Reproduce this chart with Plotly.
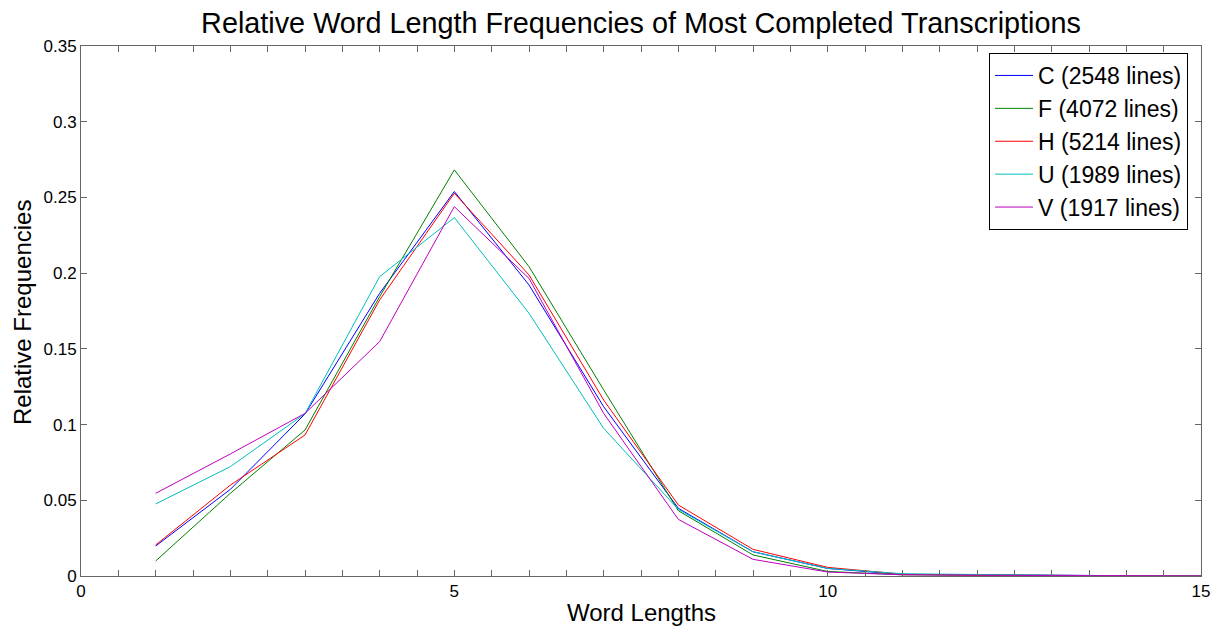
import plotly.graph_objects as go

word_lengths = [1, 2, 3, 4, 5, 6, 7, 8, 9, 10, 11, 12, 13, 14, 15]

series_names = ["C (2548 lines)", "F (4072 lines)", "H (5214 lines)", "U (1989 lines)", "V (1917 lines)"]
series_colors = ["#0000ff", "#008000", "#ff0000", "#00bfbf", "#bf00bf"]

freq_C = [0.0198, 0.0572, 0.1070, 0.1867, 0.2539, 0.1922, 0.1118, 0.0447, 0.0160, 0.0050, 0.0010, 0.0008, 0.0007, 0.0001, 0.0]
freq_F = [0.0099, 0.0546, 0.0964, 0.1845, 0.2682, 0.2043, 0.1229, 0.0431, 0.0139, 0.0030, 0.0008, 0.0005, 0.0002, 0.0, 0.0]
freq_H = [0.0205, 0.0600, 0.0931, 0.1823, 0.2528, 0.1988, 0.1162, 0.0469, 0.0176, 0.0057, 0.0012, 0.0005, 0.0004, 0.0002, 0.0001]
freq_U = [0.0476, 0.0722, 0.1072, 0.1977, 0.2367, 0.1735, 0.0975, 0.0440, 0.0160, 0.0050, 0.0015, 0.0010, 0.0003, 0.0, 0.0]
freq_V = [0.0546, 0.0806, 0.1074, 0.1548, 0.2439, 0.1965, 0.1074, 0.0374, 0.0110, 0.0026, 0.0008, 0.0004, 0.0003, 0.0002, 0.0]

all_freqs = [freq_C, freq_F, freq_H, freq_U, freq_V]

title_text = "Relative Word Length Frequencies of Most Completed Transcriptions"
x_label = "Word Lengths"
y_label = "Relative Frequencies"

FONT = "Liberation Sans, Arial, sans-serif"
W, H = 1221, 627
L, R, T, B = 81, 20, 46, 51

fig = go.Figure()
for name, color, ys in zip(series_names, series_colors, all_freqs):
    fig.add_trace(go.Scatter(x=word_lengths, y=ys, mode="lines", name=name,
                             line=dict(color=color, width=1)))

axis_common = dict(
    showgrid=False, zeroline=False, showline=True, linecolor="#666666", linewidth=1,
    mirror="ticks", ticks="inside", ticklen=6, tickcolor="#666666", tickwidth=1,
    tickfont=dict(family=FONT, size=17, color="black"), automargin=False,
)

plot_w = W - L - R
plot_h = H - T - B

fig.update_layout(
    width=W, height=H,
    margin=dict(l=L, r=R, t=T, b=B),
    paper_bgcolor="white", plot_bgcolor="white",
    title=dict(text=title_text,
               x=0.5, xref="paper", xanchor="center", y=1 - 23 / H, yanchor="middle",
               font=dict(family=FONT, size=28.8, color="black")),
    xaxis=dict(range=[0, 15], tick0=0, dtick=5,
               minor=dict(dtick=0.5, ticks="inside", ticklen=6, tickcolor="#666666", showgrid=False),
               **axis_common),
    yaxis=dict(range=[0, 0.35], tick0=0, dtick=0.05, tickformat="~g",
               **axis_common),
    legend=dict(x=(989 - L) / plot_w, y=(H - B - 53) / plot_h, xanchor="left", yanchor="top",
                bgcolor="white", bordercolor="black", borderwidth=1,
                font=dict(family=FONT, size=23, color="black"), itemwidth=38),
    showlegend=True,
    annotations=[
        dict(text=x_label, xref="paper", yref="paper", x=0.5, y=(H - B - 612) / plot_h,
             xanchor="center", yanchor="middle", showarrow=False,
             font=dict(family=FONT, size=24, color="black")),
        dict(text=y_label, xref="paper", yref="paper", x=(22 - L) / plot_w, y=(H - B - 313) / plot_h,
             xanchor="center", yanchor="middle", showarrow=False, textangle=-90,
             font=dict(family=FONT, size=24, color="black")),
    ],
)

fig.write_html("out.html", config={"displayModeBar": False},
               post_script="document.body.style.margin='0px';document.body.style.overflow='hidden';")
